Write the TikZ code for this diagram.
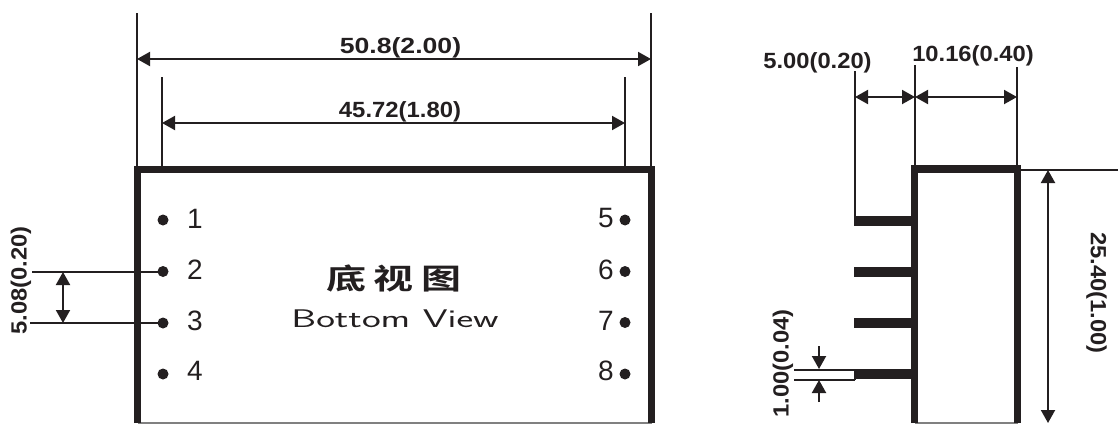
\documentclass[tikz,border=0pt]{standalone}
\usepackage{fontspec}
\setmainfont{Liberation Sans}
\newfontfamily\cjkf{Noto Sans CJK SC}[BoldFont=* Bold]
\usetikzlibrary{arrows.meta}
\definecolor{ink}{HTML}{231F20}
\newcommand{\widedim}[1]{\scalebox{1.21}[1]{#1}}
\newcommand{\normdim}[1]{\scalebox{1.08}[1]{#1}}
\tikzset{
  thin line/.style={draw=ink,line width=2pt},
  thick wall/.style={draw=ink,line width=7.5pt},
  pin bar/.style={draw=ink,line width=10pt},
  dim/.style={draw=ink,line width=2pt,{Triangle[length=13pt,width=14pt]}-{Triangle[length=13pt,width=14pt]}},
  tip/.style={draw=ink,line width=2pt,-{Triangle[length=13pt,width=14pt]}},
  dimtext/.style={font=\fontsize{22}{24}\selectfont\bfseries,text=ink,inner sep=0pt},
  pinno/.style={font=\fontsize{28}{30}\selectfont,text=ink,inner sep=0pt},
  pindot/.style={circle,fill=ink,inner sep=0pt,minimum size=11pt}
}
\begin{document}
\begin{tikzpicture}[x=1pt,y=-1pt]
\useasboundingbox (0,0) rectangle (1118,423);
% named points
\coordinate (LTL) at (137.5,169.5); \coordinate (LTR) at (651.5,169.5);
\coordinate (LBL) at (137.5,423); \coordinate (LBR) at (651.5,423);
\coordinate (RTL) at (914.5,169.5); \coordinate (RTR) at (1017.5,169.5);
\coordinate (RBL) at (914.5,423); \coordinate (RBR) at (1017.5,423);
\coordinate (e1) at (137,13); \coordinate (e1b) at (137,166);
\coordinate (e2) at (651,13); \coordinate (e2b) at (651,166);
\coordinate (e3) at (162,77); \coordinate (e3b) at (162,166);
\coordinate (e4) at (625,77); \coordinate (e4b) at (625,166);
\coordinate (a1l) at (137,59); \coordinate (a1r) at (651,59);
\coordinate (a2l) at (162,123); \coordinate (a2r) at (625,123);
% left view body
\draw[thin line,draw=gray,line width=1.5pt] (LBL) -- (LBR);
\draw[thick wall,line cap=butt] (LBL) -- ([yshift=-3.75pt]LTL);
\draw[thick wall] (134,169.5) -- (655,169.5);
\draw[thick wall] (LTR) -- (LBR);
\draw[thin line] (e1) -- (e1b);
\draw[thin line] (e2) -- (e2b);
\draw[thin line] (e3) -- (e3b);
\draw[thin line] (e4) -- (e4b);
\draw[dim] (a1l) -- (a1r);
\draw[dim] (a2l) -- (a2r);
\node[dimtext] (t508) at (400.5,48) {\widedim{50.8(2.00)}};
\node[dimtext] (t4572) at (400,112) {\scalebox{1.085}[1]{45.72(1.80)}};
% pins
\node[pindot] (p1) at (163,220) {};
\node[pindot] (p2) at (163,271.5) {};
\node[pindot] (p3) at (163,323) {};
\node[pindot] (p4) at (163,374) {};
\node[pindot] (p5) at (625,220) {};
\node[pindot] (p6) at (625,271.5) {};
\node[pindot] (p7) at (625,322.5) {};
\node[pindot] (p8) at (625,374) {};
\node[pinno] (n1) at (195,219) {1};
\node[pinno] (n2) at (195,270) {2};
\node[pinno] (n3) at (195,321) {3};
\node[pinno] (n4) at (195,371) {4};
\node[pinno] (n5) at (606,218.5) {5};
\node[pinno] (n6) at (606,270) {6};
\node[pinno] (n7) at (606,320.5) {7};
\node[pinno] (n8) at (606,371) {8};
\node[font=\cjkf\bfseries\fontsize{40}{44}\selectfont,text=ink,inner sep=0pt] (cn) at (394,278) {\scalebox{1}[0.72]{底\hspace{0.18em}视\hspace{0.18em}图}};
\node[font=\fontfamily{lmss}\fontsize{25.5}{28}\selectfont,text=ink,inner sep=0pt] (en) at (395,319) {\scalebox{1.56}[1]{Bottom View}};
% left dimension
\coordinate (g2) at (32,272); \coordinate (g3) at (30,323);
\coordinate (d2) at (63,272); \coordinate (d3) at (63,323);
\draw[thin line] (g2) -- (g2 -| p2.center);
\draw[thin line] (g3) -- (g3 -| p3.center);
\draw[dim] (d2) -- (d3);
\node[dimtext,rotate=90] (t508b) at (21,280.5) {\normdim{5.08(0.20)}};
% right view body
\draw[thin line,draw=gray,line width=1.5pt] (RBL) -- (RBR);
\draw[thick wall] (RBL) -- (RTL |- 165,169);
\draw[thick wall] (911,169) -- (1021,169);
\draw[thick wall] (RBR) -- (RTR |- 165,169);
\coordinate (b1) at (854,220.5); \coordinate (b2) at (854,272); \coordinate (b3) at (854,323); \coordinate (b4) at (854,374);
\coordinate (bw1) at (912,220.5); \coordinate (bw2) at (912,272); \coordinate (bw3) at (912,323); \coordinate (bw4) at (912,374);
\draw[pin bar] (b1) -- (bw1);
\draw[pin bar] (b2) -- (bw2);
\draw[pin bar] (b3) -- (bw3);
\draw[pin bar] (b4) -- (bw4);
\coordinate (x1) at (855,71); \coordinate (x1b) at (855,216);
\coordinate (x2) at (915,65); \coordinate (x2b) at (915,166);
\coordinate (x3) at (1017,67); \coordinate (x3b) at (1017,166);
\draw[thin line] (x1) -- (x1b);
\draw[thin line] (x2) -- (x2b);
\draw[thin line] (x3) -- (x3b);
\coordinate (h1) at (855,97); \coordinate (h2) at (915,97); \coordinate (h3) at (1017,97);
\draw[dim] (h1) -- (h2);
\draw[dim] (h2) -- (h3);
\node[dimtext] (t500) at (817.5,63) {\normdim{5.00(0.20)}};
\node[dimtext] (t1016) at (973,55.5) {\normdim{10.16(0.40)}};
% height
\coordinate (tl) at (1021,170); \coordinate (tr) at (1118,170);
\draw[thin line] (tl) -- (tr);
\coordinate (v1) at (1048,170); \coordinate (v2) at (1048,423);
\draw[dim] (v1) -- (v2);
\node[dimtext,rotate=-90] (t2540) at (1096.5,293) {\normdim{25.40(1.00)}};
% pin thickness
\coordinate (s1) at (794,369.5); \coordinate (s1b) at (855,369.5);
\coordinate (s2) at (794,379.5); \coordinate (s2b) at (855,379.5);
\draw[thin line] (s1) -- (s1b);
\draw[thin line] (s2) -- (s2b);
\draw[thin line] (s1b) -- (s2b);
\coordinate (u1) at (819,346); \coordinate (u1b) at (819,369);
\coordinate (u2) at (819,402); \coordinate (u2b) at (819,380);
\draw[tip] (u1) -- (u1b);
\draw[tip] (u2) -- (u2b);
\node[dimtext,rotate=90] (t100) at (783,363.5) {\normdim{1.00(0.04)}};
\end{tikzpicture}
\end{document}
